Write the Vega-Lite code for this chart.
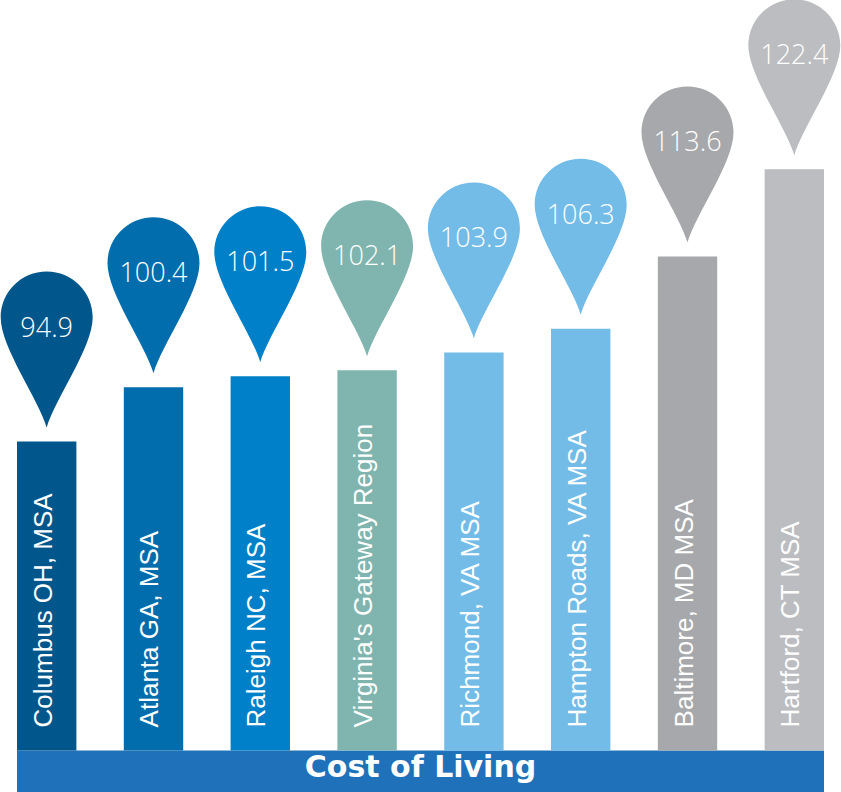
{
  "$schema": "https://vega.github.io/schema/vega-lite/v6.json",
  "width": 841,
  "height": 792,
  "autosize": {"type": "fit", "contains": "padding"},
  "padding": 0,
  "background": "white",
  "view": {"stroke": null},
  "title": {
    "text": "Cost of Living",
    "orient": "bottom",
    "anchor": "middle",
    "offset": -15,
    "baseline": "alphabetic",
    "font": "DejaVu Sans",
    "fontSize": 30,
    "fontWeight": "bold",
    "color": "white"
  },
  "data": {
    "values": [
      {"region": "Columbus OH, MSA", "index": 94.9},
      {"region": "Atlanta GA, MSA", "index": 100.4},
      {"region": "Raleigh NC, MSA", "index": 101.5},
      {"region": "Virginia's Gateway Region", "index": 102.1},
      {"region": "Richmond,  VA MSA", "index": 103.9},
      {"region": "Hampton Roads,  VA MSA", "index": 106.3},
      {"region": "Baltimore, MD MSA", "index": 113.6},
      {"region": "Hartford, CT MSA", "index": 122.4}
    ]
  },
  "encoding": {
    "x": {
      "field": "region",
      "type": "nominal",
      "sort": null,
      "axis": null,
      "scale": {
        "domain": ["Columbus OH, MSA", "Atlanta GA, MSA", "Raleigh NC, MSA", "Virginia's Gateway Region", "Richmond,  VA MSA", "Hampton Roads,  VA MSA", "Baltimore, MD MSA", "Hartford, CT MSA"],
        "range": [17, 824],
        "paddingInner": 0.444,
        "paddingOuter": 0
      }
    }
  },
  "layer": [
    {
      "data": {"values": [{"banner": "Cost of Living"}]},
      "mark": {"type": "rect", "color": "#1f71b9"},
      "encoding": {
        "x": {"datum": "Columbus OH, MSA", "bandPosition": 0},
        "x2": {"datum": "Hartford, CT MSA", "bandPosition": 1},
        "y": {"datum": 63.7, "type": "quantitative", "scale": {"domain": [59.5, 138.7], "zero": false, "nice": false}, "axis": null},
        "y2": {"datum": 59.5}
      }
    },
    {
      "mark": {"type": "bar"},
      "encoding": {
        "y": {"field": "index", "type": "quantitative", "axis": null},
        "y2": {"datum": 63.7},
        "color": {
          "field": "region",
          "type": "nominal",
          "sort": null,
          "legend": null,
          "scale": {
            "domain": ["Columbus OH, MSA", "Atlanta GA, MSA", "Raleigh NC, MSA", "Virginia's Gateway Region", "Richmond,  VA MSA", "Hampton Roads,  VA MSA", "Baltimore, MD MSA", "Hartford, CT MSA"],
            "range": ["#01568b", "#016dad", "#0080c9", "#7fb5ae", "#73bce7", "#73bce7", "#a6a8ab", "#bcbdc0"]
          }
        }
      }
    },
    {
      "mark": {
        "type": "point",
        "shape": "M0,0 C-8,-28 -46,-80 -46,-110 A46,46 0 1,1 46,-110 C46,-80 8,-28 0,0 Z",
        "size": 4,
        "filled": true,
        "opacity": 1,
        "strokeWidth": 0,
        "yOffset": -14
      },
      "encoding": {
        "y": {"field": "index", "type": "quantitative"},
        "color": {"field": "region", "type": "nominal", "sort": null, "legend": null}
      }
    },
    {
      "mark": {
        "type": "text",
        "font": "Open Sans",
        "fontWeight": 300,
        "fontSize": 27,
        "dy": -105,
        "baseline": "alphabetic",
        "align": "center"
      },
      "encoding": {
        "y": {"field": "index", "type": "quantitative"},
        "text": {"field": "index", "type": "quantitative", "format": ".1f"},
        "color": {"value": "white"}
      }
    },
    {
      "mark": {
        "type": "text",
        "angle": 270,
        "align": "left",
        "baseline": "middle",
        "dx": 23,
        "dy": -3,
        "font": "Liberation Sans",
        "fontSize": 26
      },
      "encoding": {
        "y": {"datum": 63.7},
        "text": {"field": "region", "type": "nominal"},
        "color": {"value": "white"}
      }
    }
  ]
}
